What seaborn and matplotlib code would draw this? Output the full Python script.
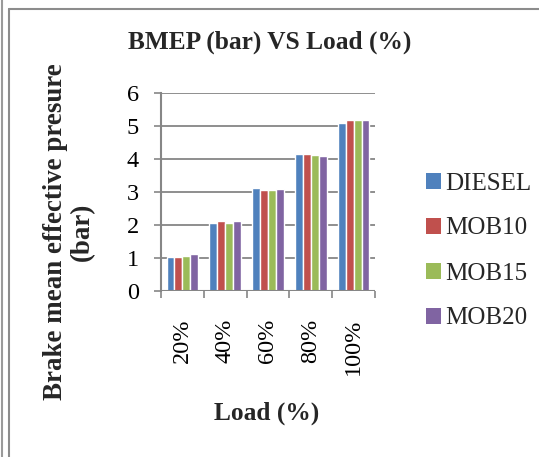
import matplotlib
matplotlib.use("Agg")
import matplotlib.pyplot as plt
from matplotlib.lines import Line2D
from matplotlib.patches import Patch
import numpy as np
import pandas as pd
import seaborn as sns

# Brake mean effective pressure (bar) at each engine load
loads = ["20%", "40%", "60%", "80%", "100%"]
fuels = ["DIESEL", "MOB10", "MOB15", "MOB20"]
diesel = [1.02, 2.06, 3.11, 4.14, 5.08]
mob10 = [1.04, 2.11, 3.07, 4.14, 5.17]
mob15 = [1.06, 2.06, 3.07, 4.13, 5.18]
mob20 = [1.11, 2.11, 3.09, 4.10, 5.19]
colors = ["#4F81BD", "#C0504D", "#9BBB59", "#8064A2"]

df = pd.DataFrame({
    "Load": loads * 4,
    "BMEP": diesel + mob10 + mob15 + mob20,
    "Fuel": [f for f in fuels for _ in loads],
})

sns.set_theme(style="white")
plt.rcParams["font.family"] = ["Liberation Serif", "DejaVu Serif"]

W, H = 539, 457
fig = plt.figure(figsize=(W / 100, H / 100), dpi=100)
ax = fig.add_axes([161 / W, 1 - 291 / H, (375 - 161) / W, (291 - 93) / H])

sns.barplot(data=df, x="Load", y="BMEP", hue="Fuel", order=loads,
            hue_order=fuels, palette=colors, saturation=1, width=0.74,
            errorbar=None, legend=False, ax=ax, zorder=3)

grey = "#868686"
ax.set_ylim(0, 6)
ax.set_xlim(-0.5, 4.5)
ax.set_yticks(range(0, 7))
ax.yaxis.grid(True, color=grey, linewidth=1.3, zorder=0)
ax.set_axisbelow(True)
for s in ["top", "right", "bottom"]:
    ax.spines[s].set_visible(False)
ax.spines["left"].set_color(grey)
ax.spines["left"].set_linewidth(1.5)
ax.spines["left"].set_zorder(4)
ax.axhline(0, color=grey, linewidth=1.5, zorder=4)

ax.set_xlabel("")
ax.set_ylabel("")
ax.tick_params(axis="y", which="major", left=True, length=5, width=1.2,
               color=grey, pad=11, labelsize=17.5, labelcolor="black")
ax.set_xticks(range(len(loads)))
ax.set_xticklabels(loads, rotation=90, fontsize=17.5)
ax.set_xticks(np.arange(-0.5, len(loads)), minor=True)
ax.tick_params(axis="x", which="major", length=0, pad=20, labelcolor="black")
ax.tick_params(axis="x", which="minor", bottom=True, length=5, width=1.2,
               color=grey)
for lab in ax.get_xticklabels():
    lab.set_verticalalignment("top")

fig.text(270 / W, 1 - 42 / H, "BMEP (bar) VS Load (%)", ha="center",
         va="center", fontsize=18.3, fontweight="bold")
fig.text(69 / W, 1 - 232 / H, "Brake mean effective presure\n(bar)",
         rotation=90, ha="center", va="center", multialignment="center",
         fontsize=19.4, fontweight="bold", linespacing=1.15)
fig.text(267 / W, 1 - 413 / H, "Load (%)", ha="center", va="center",
         fontsize=18.3, fontweight="bold")

handles = [Patch(facecolor=c, edgecolor="none") for c in colors]
fig.legend(handles, fuels, loc="upper left",
           bbox_to_anchor=(413 / W, 1 - 160 / H), frameon=False,
           fontsize=18, handlelength=0.6, handleheight=0.6,
           handletextpad=0.18, labelspacing=0.92, borderpad=0)

# chart border
fig.add_artist(Line2D([1.5 / W, 1.5 / W], [0, 1], color="#9a9a9a", lw=1.5))
fig.add_artist(Line2D([8.5 / W, 8.5 / W], [0, 1 - 9 / H], color="#8c8c8c",
                      lw=1.5))
fig.add_artist(Line2D([8.5 / W, 1], [1 - 9 / H, 1 - 9 / H], color="#8c8c8c",
                      lw=1.5))

fig.savefig("out.png", dpi=100)
